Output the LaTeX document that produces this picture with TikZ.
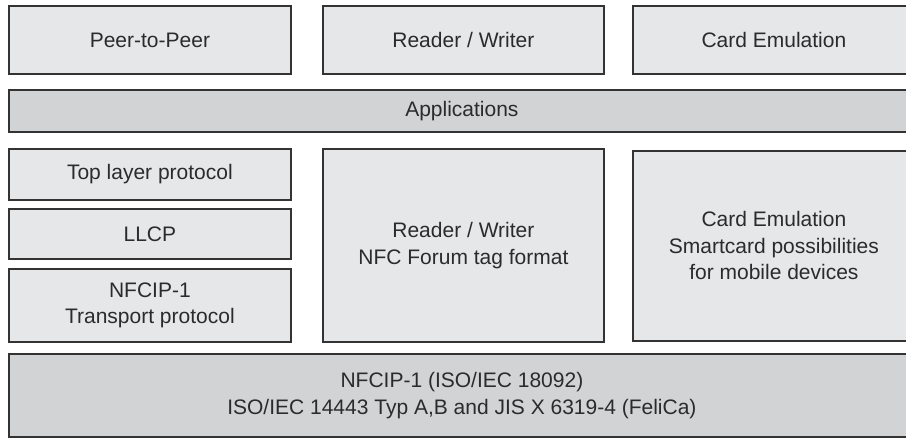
\documentclass[tikz,border=0pt]{standalone}
\usepackage{fontspec}
\setmainfont{Liberation Sans}
\definecolor{boxlight}{HTML}{E6E7E8}
\definecolor{boxdark}{HTML}{D1D3D4}
\definecolor{edge}{HTML}{333333}
\definecolor{ink}{HTML}{2B2B2B}
\tikzset{
  layer/.style={draw=edge, line width=1.8pt, fill=boxlight, inner sep=0pt,
    anchor=north west, align=center, text=ink,
    font=\fontsize{21}{26.5}\selectfont},
  band/.style={layer, fill=boxdark}
}
\begin{document}
\begin{tikzpicture}[x=1pt, y=-1pt]
  \useasboundingbox (0,0) rectangle (906,437);
  \fill[white] (0,0) rectangle (906,437);
  % application modes
  \node[layer, minimum width=282pt, minimum height=68pt] (p2p) at (8,5) {Peer-to-Peer};
  \node[layer, minimum width=281pt, minimum height=68pt] (rw) at (322,5) {Reader / Writer};
  \node[layer, minimum width=282pt, minimum height=68pt] (ce) at (632,5) {Card Emulation};
  % applications band
  \node[band, minimum width=906pt, minimum height=42pt] (app) at (8,89) {Applications};
  % peer-to-peer stack
  \node[layer, minimum width=282pt, minimum height=51pt] (tlp) at (8,148) {Top layer protocol};
  \node[layer, minimum width=282pt, minimum height=50pt] (llcp) at (8,208) {LLCP};
  \node[layer, minimum width=282pt, minimum height=73pt] (nfcip) at (8,268) {NFCIP-1\\Transport protocol};
  % reader/writer and card emulation
  \node[layer, minimum width=281pt, minimum height=193pt] (rwf) at (322,148) {Reader / Writer\\NFC Forum tag format};
  \node[layer, minimum width=282pt, minimum height=190pt] (cef) at (632,150) {Card Emulation\\Smartcard possibilities\\for mobile devices};
  % radio interface
  \node[band, minimum width=906pt, minimum height=83pt] (base) at (8,353) {NFCIP-1 (ISO/IEC 18092)\\ISO/IEC 14443 Typ A,B and JIS X 6319-4 (FeliCa)};
\end{tikzpicture}
\end{document}
